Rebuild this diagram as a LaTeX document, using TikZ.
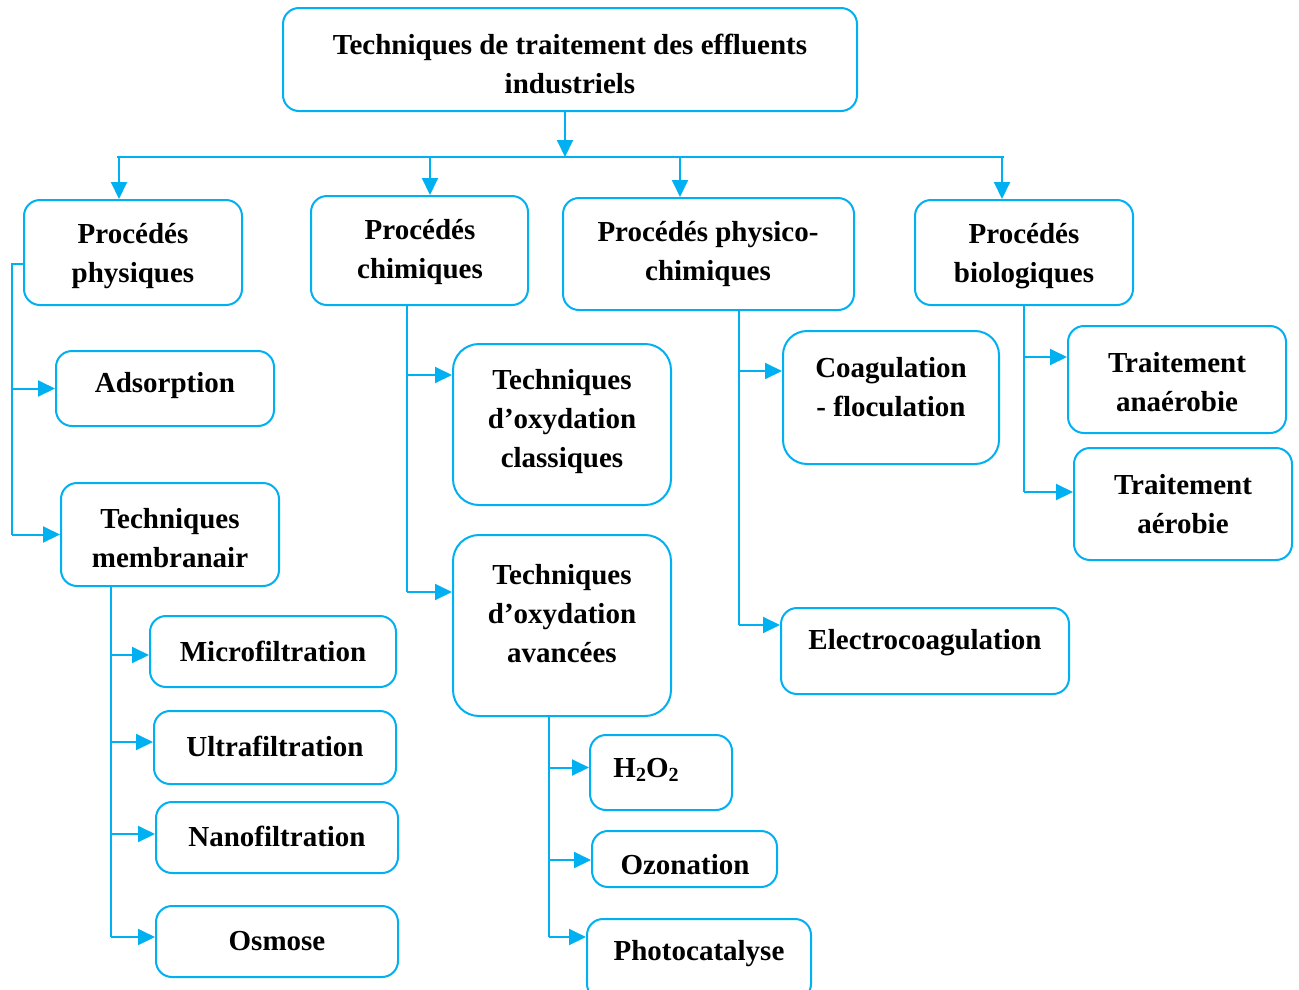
\documentclass[tikz,border=0pt]{standalone}
\usepackage{fontspec}
\setmainfont{Liberation Serif}
\usetikzlibrary{arrows.meta}
\definecolor{cb}{HTML}{00B0F0}
\newcommand{\bx}[6][]{\node[box,minimum width={#5-#3},minimum height={#6-#4},#1] (#2) at ({(#3+#5)/2},{(#4+#6)/2}) {};}
\begin{document}
\begin{tikzpicture}[x=1pt,y=-1pt,
 box/.style={draw=cb,line width=2pt,rounded corners=16pt,inner sep=0pt},
 txt/.style={font=\bfseries\fontsize{29}{39}\selectfont,align=center,inner sep=0pt,text=black,yshift=-3pt},
 ln/.style={draw=cb,line width=2pt},
 arr/.style={ln,-{Triangle[length=17pt,width=16pt]}}]
\useasboundingbox (0,0) rectangle (1299,989);
% boxes
\bx{top}{283}{8}{857}{111}
\bx{b1}{24}{200}{242}{305}
\bx{b2}{311}{196}{528}{305}
\bx{b3}{563}{198}{854}{310}
\bx{b4}{915}{200}{1133}{305}
\bx{ads}{56}{351}{274}{426}
\bx{memb}{61}{483}{279}{586}
\bx{mic}{150}{616}{396}{687}
\bx{ult}{154}{711}{396}{784}
\bx{nan}{156}{802}{398}{873}
\bx{osm}{156}{906}{398}{977}
\bx[rounded corners=26pt]{oxc}{453}{344}{671}{505}
\bx[rounded corners=26pt]{oxa}{453}{535}{671}{716}
\bx{hoo}{590}{735}{732}{810}
\bx{ozo}{592}{831}{777}{887}
\bx{pho}{587}{919}{811}{1000}
\bx[rounded corners=24pt]{coag}{783}{331}{999}{464}
\bx{elec}{781}{608}{1069}{694}
\bx{ana}{1068}{326}{1286}{433}
\bx{aer}{1074}{448}{1292}{560}
% texts
\node[txt] (topt) at (570,61) {Techniques de traitement des effluents\\industriels};
\node[txt] (b1t) at (133,253) {Procédés\\physiques};
\node[txt] (b2t) at (420,249) {Procédés\\chimiques};
\node[txt] (b3t) at (708,251.5) {Procédés physico-\\chimiques};
\node[txt] (b4t) at (1024,253) {Procédés\\biologiques};
\node[txt] (adst) at (165,383) {Adsorption};
\node[txt] (membt) at (170,535.5) {Techniques\\membranair};
\node[txt] (mict) at (273,648) {Microfiltration};
\node[txt] (ultt) at (275,743) {Ultrafiltration};
\node[txt] (nant) at (277,833) {Nanofiltration};
\node[txt] (osmt) at (277,938) {Osmose};
\node[txt] (oxct) at (562,419) {Techniques\\d’oxydation\\classiques};
\node[txt] (oxat) at (562,611) {Techniques\\d’oxydation\\avancées};
\node[txt] (hoot) at (646,767) {H\raisebox{-0.3ex}{\fontsize{20}{20}\selectfont 2}O\raisebox{-0.3ex}{\fontsize{20}{20}\selectfont 2}};
\node[txt] (ozot) at (685,862) {Ozonation};
\node[txt] (phot) at (699,951) {Photocatalyse};
\node[txt] (coagt) at (891,384.5) {Coagulation\\- floculation};
\node[txt] (elect) at (925,640) {Electrocoagulation};
\node[txt] (anat) at (1177,379) {Traitement\\anaérobie};
\node[txt] (aert) at (1183,501) {Traitement\\aérobie};
% main distribution
\coordinate (barL) at (117,157);
\coordinate (barR) at (1004,157);
\draw[arr] ([xshift=-5pt]top.south) -- ([xshift=-5pt]top.south |- barL);
\draw[ln] (barL) -- (barR);
\draw[arr] ([xshift=-14pt]b1.north |- barL) -- ([xshift=-14pt]b1.north);
\draw[arr] ([xshift=10.5pt]b2.north |- barL) -- ([xshift=10.5pt]b2.north);
\draw[arr] ([xshift=-28.5pt]b3.north |- barL) -- ([xshift=-28.5pt]b3.north);
\draw[arr] ([xshift=-22pt]b4.north |- barL) -- ([xshift=-22pt]b4.north);
% physiques
\coordinate (j1) at (12,264);
\draw[ln] (j1 -| b1.west) -- (j1) -- (j1 |- memb.west);
\draw[arr] (j1 |- ads.west) -- (ads.west);
\draw[arr] (j1 |- memb.west) -- (memb.west);
% membranes
\coordinate (j5) at (111,586);
\draw[ln] (j5) -- ([yshift=4.5pt]j5 |- osm.west);
\draw[arr] ([yshift=-3.5pt]j5 |- mic.west) -- ([yshift=-3.5pt]mic.west);
\draw[arr] ([yshift=5.5pt]j5 |- ult.west) -- ([yshift=5.5pt]ult.west);
\draw[arr] ([yshift=3.5pt]j5 |- nan.west) -- ([yshift=3.5pt]nan.west);
\draw[arr] ([yshift=4.5pt]j5 |- osm.west) -- ([yshift=4.5pt]osm.west);
% chimiques
\coordinate (j2) at (407,305);
\draw[ln] (j2) -- ([yshift=33.5pt]j2 |- oxa.west);
\draw[arr] ([yshift=49.5pt]j2 |- oxc.west) -- ([yshift=49.5pt]oxc.west);
\draw[arr] ([yshift=33.5pt]j2 |- oxa.west) -- ([yshift=33.5pt]oxa.west);
% avancees
\coordinate (j6) at (549,715);
\draw[ln] (j6) -- ([yshift=22.5pt]j6 |- pho.west);
\draw[arr] ([yshift=5pt]j6 |- hoo.west) -- ([yshift=5pt]hoo.west);
\draw[arr] ([yshift=-1pt]j6 |- ozo.west) -- ([yshift=-1pt]ozo.west);
\draw[arr] ([yshift=22.5pt]j6 |- pho.west) -- ([yshift=22.5pt]pho.west);
% physico-chimiques
\coordinate (j3) at (739,310);
\draw[ln] (j3) -- ([yshift=26pt]j3 |- elec.west);
\draw[arr] ([yshift=26.5pt]j3 |- coag.west) -- ([yshift=26.5pt]coag.west);
\draw[arr] ([yshift=26pt]j3 |- elec.west) -- ([yshift=26pt]elec.west);
% biologiques
\coordinate (j4) at (1024,305);
\draw[ln] (j4) -- ([yshift=12pt]j4 |- aer.west);
\draw[arr] ([yshift=22.5pt]j4 |- ana.west) -- ([yshift=22.5pt]ana.west);
\draw[arr] ([yshift=12pt]j4 |- aer.west) -- ([yshift=12pt]aer.west);
\end{tikzpicture}
\end{document}
